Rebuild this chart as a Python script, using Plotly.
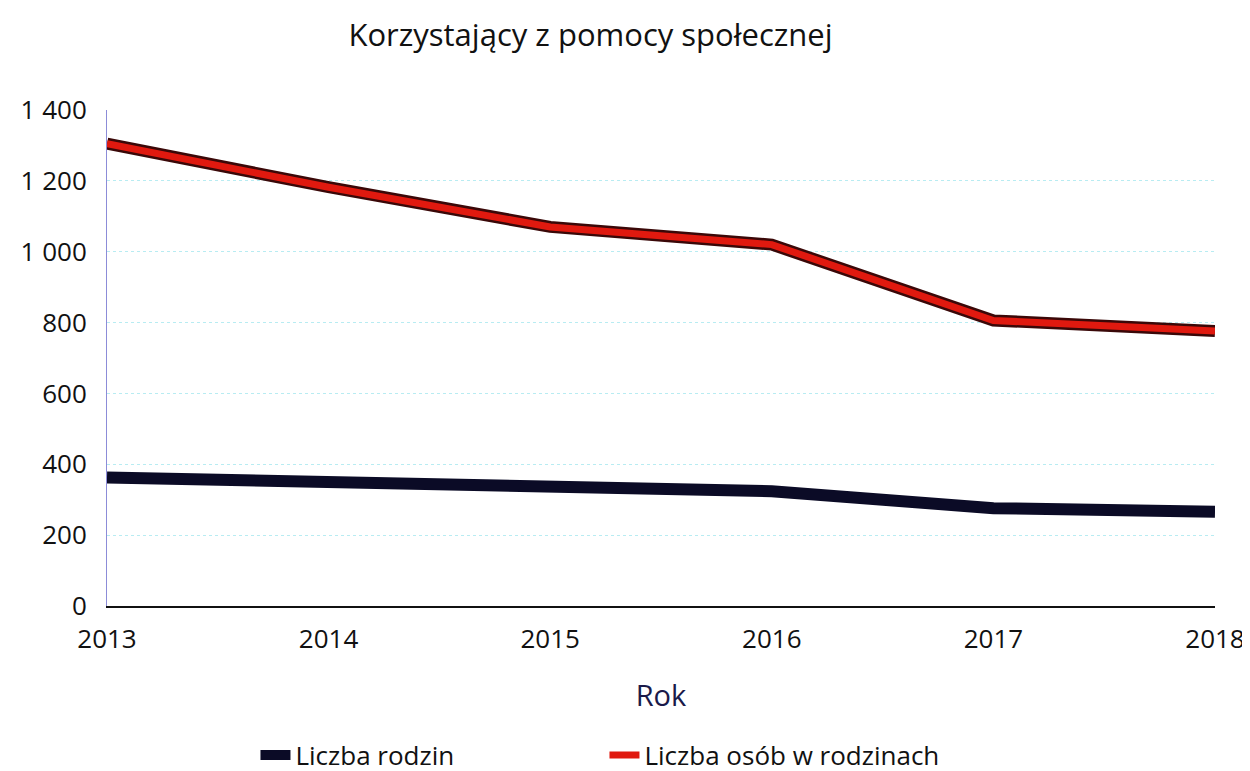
import plotly.graph_objs as go

lata = [2013, 2014, 2015, 2016, 2017, 2018]
liczba_rodzin = [363, 350, 332, 324, 276, 266]
liczba_osob = [1305, 1182, 1070, 1020, 806, 776]

tytul = "Korzystający z pomocy społecznej"
os_x = "Rok"
y_ticki = [0, 200, 400, 600, 800, 1000, 1200, 1400]
y_etykiety = ["0", "200", "400", "600", "800", "1 000", "1 200", "1 400"]

font_name = "Open Sans"

fig = go.Figure()

fig.add_trace(go.Scatter(
    x=lata, y=liczba_rodzin,
    mode="lines",
    name="Liczba rodzin",
    line=dict(color="#0b0b26", width=12),
))

# ciemna obwódka pod czerwoną linią
fig.add_trace(go.Scatter(
    x=lata, y=liczba_osob,
    mode="lines",
    line=dict(color="#3a0808", width=12),
    showlegend=False,
    hoverinfo="skip",
))
fig.add_trace(go.Scatter(
    x=lata, y=liczba_osob,
    mode="lines",
    name="Liczba osób w rodzinach",
    line=dict(color="#e0190f", width=7),
))

fig.update_layout(
    width=1250, height=771,
    paper_bgcolor="white",
    plot_bgcolor="white",
    font=dict(family=font_name, size=26, color="#111111"),
    title=dict(text=tytul, x=0.466, xanchor="center", y=0.965, yanchor="middle",
               font=dict(size=31, color="#111111")),
    margin=dict(l=99, r=43, t=102, b=173),
    xaxis=dict(
        range=[2013, 2018],
        tickvals=lata,
        ticktext=[str(r) for r in lata],
        showgrid=False,
        showline=True, linecolor="#111111", linewidth=2,
        zeroline=False,
        ticks="", ticklabelstandoff=9,
        title=dict(text=os_x, font=dict(size=29, color="#1a1a4a"), standoff=30),
    ),
    yaxis=dict(
        range=[0, 1400],
        tickvals=y_ticki,
        ticktext=y_etykiety,
        showgrid=True, gridcolor="#b8ecf2", griddash="dot", gridwidth=1,
        showline=True, linecolor="#8c8cd8", linewidth=1,
        zeroline=False,
        ticks="", ticklabelstandoff=14,
    ),
    legend=dict(
        orientation="h",
        x=0.134, xanchor="left",
        yref="container",
        y=0.031, yanchor="middle",
        font=dict(size=26, color="#111111"),
        entrywidth=304,
        itemwidth=30,
    ),
)

fig.write_html("out.html")
